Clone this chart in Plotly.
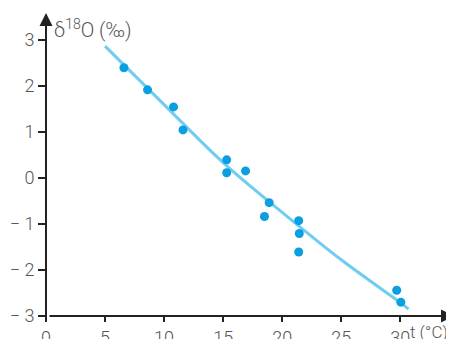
import plotly.graph_objects as go

# measured points: temperature (°C) and delta-18O (per mil)
temp_c = [6.6, 8.6, 10.8, 11.6, 15.3, 15.3, 16.9, 18.9, 18.5, 21.4, 21.45, 21.4, 29.7, 30.05]
d18o = [2.39, 1.91, 1.54, 1.04, 0.39, 0.11, 0.15, -0.54, -0.84, -0.93, -1.21, -1.61, -2.44, -2.70]

# fitted curve
curve_t = [5.0, 10.0, 15.0, 20.0, 25.0, 30.0, 30.7]
curve_d = [2.86, 1.59, 0.33, -0.75, -1.78, -2.71, -2.85]

x_ticks = [0, 5, 10, 15, 20, 25, 30]
x_ticktext = ["0", "5", "10", "15", "20", "25", "30"]
y_ticks = [3, 2, 1, 0, -1, -2, -3]
y_ticktext = ["3", "2", "1", "0", "− 1", "− 2", "− 3"]

FONT = "Roboto, Liberation Sans, sans-serif"
GRAY = "#555555"
AX = "#222222"
tf = dict(family=FONT, color=GRAY, size=18, weight=300)
tf_title = dict(family=FONT, color=GRAY, size=20, weight=300)
tf_xtitle = dict(family=FONT, color=GRAY, size=17, weight=300)

fig = go.Figure()
fig.add_trace(go.Scatter(x=curve_t, y=curve_d, mode="lines",
                         line=dict(color="#6ecdf0", width=3, shape="spline"),
                         hoverinfo="skip"))
fig.add_trace(go.Scatter(x=temp_c, y=d18o, mode="markers",
                         marker=dict(color="#0a9fe0", size=9)))

xr = [0, 34.55]
yr = [-3, 3.6]

# page body has an 8px margin, so the figure is sized and offset to compensate
fig.update_layout(
    width=446, height=331,
    margin=dict(l=38, r=0, t=4, b=23),
    paper_bgcolor="white", plot_bgcolor="white",
    showlegend=False,
    font=tf,
    xaxis=dict(range=xr, tickvals=x_ticks, ticktext=x_ticktext, automargin=False,
               showgrid=False, zeroline=False, showline=False,
               ticks="outside", ticklen=5, tickcolor=AX, tickwidth=1.5,
               ticklabelstandoff=0, tickfont=tf),
    yaxis=dict(range=yr, tickvals=y_ticks, ticktext=y_ticktext, automargin=False,
               showgrid=False, zeroline=False, showline=False,
               ticks="outside", ticklen=7, tickcolor=AX, tickwidth=1.5,
               tickfont=tf),
)

# axes with arrowheads
fig.add_annotation(x=xr[1], y=yr[0], xref="x", yref="y", ax=-406, ay=0,
                   axref="pixel", ayref="pixel", text="", showarrow=True,
                   arrowhead=2, arrowsize=1.3, arrowwidth=2, arrowcolor=AX)
fig.add_annotation(x=xr[0], y=yr[1] - 0.02, xref="x", yref="y", ax=0, ay=306,
                   text="", showarrow=True,
                   arrowhead=2, arrowsize=1.3, arrowwidth=2, arrowcolor=AX)

# axis titles
fig.add_annotation(xref="paper", yref="paper", x=0.014, y=1.0, xanchor="left", yanchor="top",
                   text="δ<sup>18</sup>O (‰)", showarrow=False, font=tf_title, yshift=-2)
fig.add_annotation(xref="x", yref="paper", x=30.65, y=0, xanchor="left", yanchor="top",
                   text="t (°C)", showarrow=False, font=tf_xtitle, yshift=-4)

fig.write_html("out.html")
